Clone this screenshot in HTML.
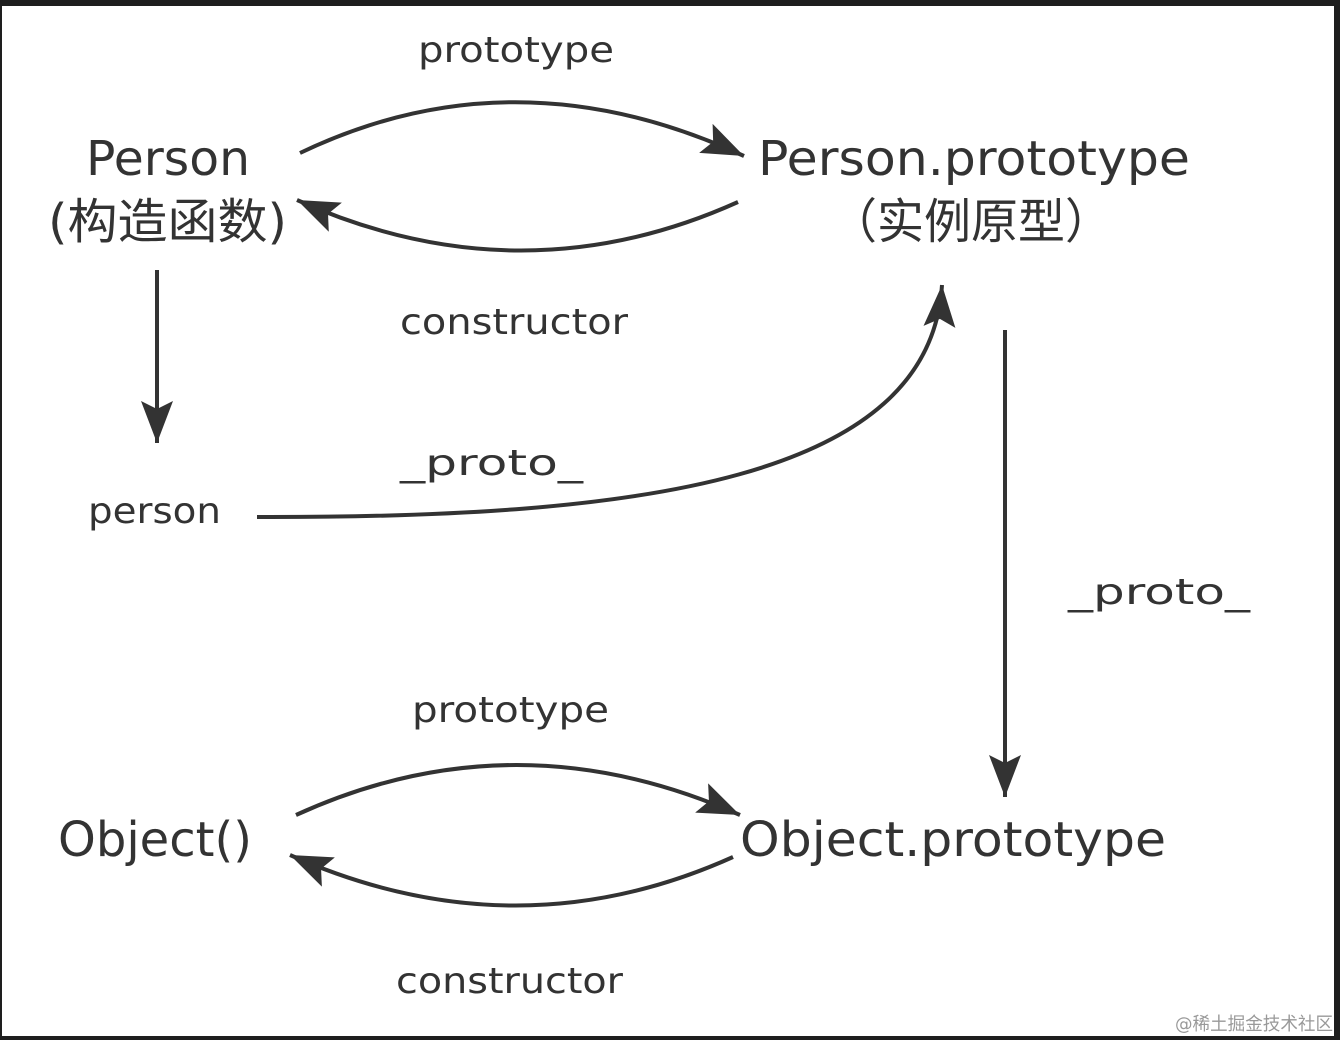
<!DOCTYPE html>
<html><head><meta charset="utf-8"><style>
html,body{margin:0;padding:0;background:#1e1e1e;}
#c{position:relative;width:1340px;height:1040px;overflow:hidden;background:#1e1e1e;}
#w{position:absolute;left:2px;top:6px;width:1332px;height:1030px;background:#fff;}
svg{position:absolute;left:0;top:0;}
text{font-family:"DejaVu Sans","Liberation Sans","Noto Sans CJK SC",sans-serif;fill:#333;}
</style></head><body><div id="c"><div id="w"></div>
<svg width="1340" height="1040" viewBox="0 0 1340 1040">
<defs><marker id="a" markerUnits="userSpaceOnUse" markerWidth="46" markerHeight="34" refX="42" refY="16" orient="auto"><path d="M0,0 L42,16 L0,32 L8,16 Z" fill="#333"/></marker></defs>
<g fill="none" stroke="#333" stroke-width="4">
<path d="M300,153 Q515,50 744,156" marker-end="url(#a)"/>
<path d="M738,202 Q520,300 297,200" marker-end="url(#a)"/>
<path d="M157,270 L157,443" marker-end="url(#a)"/>
<path d="M257,517 C640,518 930,480 942,285" marker-end="url(#a)"/>
<path d="M1005,330 L1005,797" marker-end="url(#a)"/>
<path d="M296,815 Q515,715 740,815" marker-end="url(#a)"/>
<path d="M733,857 Q515,955 290,855" marker-end="url(#a)"/>
</g>
<g lengthAdjust="spacingAndGlyphs">
<text x="418" y="62" font-size="36" textLength="196" lengthAdjust="spacingAndGlyphs">prototype</text>
<text x="86" y="175" font-size="48" textLength="164" lengthAdjust="spacingAndGlyphs">Person</text>
<text x="48" y="238" font-size="48" textLength="239" lengthAdjust="spacingAndGlyphs" font-family="'Noto Sans CJK SC',sans-serif">(构造函数)</text>
<text x="758" y="175" font-size="48" textLength="432" lengthAdjust="spacingAndGlyphs">Person.prototype</text>
<text x="830" y="238" font-size="48" textLength="282" lengthAdjust="spacingAndGlyphs" font-family="'Noto Sans CJK SC',sans-serif">（实例原型）</text>
<text x="400" y="334" font-size="36" textLength="228" lengthAdjust="spacingAndGlyphs">constructor</text>
<text x="400" y="475" font-size="36" textLength="183" lengthAdjust="spacingAndGlyphs">_proto_</text>
<text x="88" y="523" font-size="36" textLength="133" lengthAdjust="spacingAndGlyphs">person</text>
<text x="1068" y="604" font-size="36" textLength="182" lengthAdjust="spacingAndGlyphs">_proto_</text>
<text x="412" y="722" font-size="36" textLength="197" lengthAdjust="spacingAndGlyphs">prototype</text>
<text x="58" y="856" font-size="48" textLength="194" lengthAdjust="spacingAndGlyphs">Object()</text>
<text x="740" y="856" font-size="48" textLength="426" lengthAdjust="spacingAndGlyphs">Object.prototype</text>
<text x="396" y="993" font-size="36" textLength="227" lengthAdjust="spacingAndGlyphs">constructor</text>
</g>
<text x="1175" y="1030" font-size="18" style="fill:#999" textLength="158" lengthAdjust="spacingAndGlyphs" font-family="'Noto Sans CJK SC',sans-serif">@稀土掘金技术社区</text>
</svg></div></body></html>
